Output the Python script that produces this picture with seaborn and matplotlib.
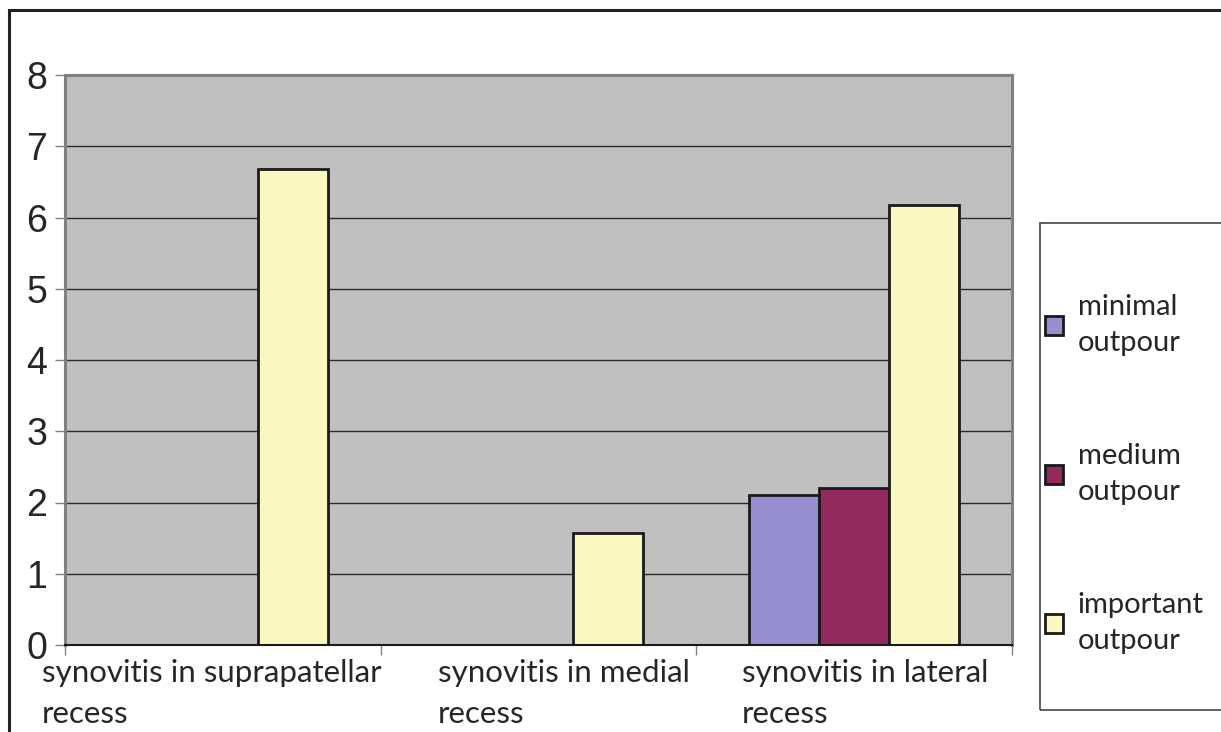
import textwrap
import numpy as np
import pandas as pd
import matplotlib
matplotlib.use("Agg")
import matplotlib.pyplot as plt
from matplotlib.patches import Rectangle
from matplotlib.ticker import FixedLocator
from matplotlib.transforms import ScaledTranslation
import seaborn as sns

categories = ["synovitis in suprapatellar recess",
              "synovitis in medial recess",
              "synovitis in lateral recess"]
levels = ["minimal outpour", "medium outpour", "important outpour"]
minimal = [np.nan, np.nan, 2.1]
medium = [np.nan, np.nan, 2.2]
important = [6.68, 1.57, 6.18]
colors = ["#968ECF", "#922A5E", "#FAF8C0"]
yticks = [0, 1, 2, 3, 4, 5, 6, 7, 8]

df = pd.DataFrame({
    "category": categories * 3,
    "level": [levels[0]] * 3 + [levels[1]] * 3 + [levels[2]] * 3,
    "value": minimal + medium + important,
})

sns.set_style("white")
plt.rcParams["font.family"] = ["Lato", "DejaVu Sans"]

W, H = 1221, 732
fig = plt.figure(figsize=(W / 100, H / 100), dpi=100)
ax = fig.add_axes([65 / W, 1 - 645 / H, (1012 - 65) / W, (645 - 75) / H])
ax.set_facecolor("#C0C0C0")

sns.barplot(data=df, x="category", y="value", hue="level",
            order=categories, hue_order=levels, palette=colors,
            saturation=1, width=0.665, gap=0, errorbar=None, dodge=True,
            edgecolor="#1a1a1a", linewidth=2.0, ax=ax, zorder=3)

ax.set_ylim(0, 8)
ax.set_xlim(-0.5, len(categories) - 0.5)
ax.set_yticks(yticks)
ax.set_yticklabels([str(t) for t in yticks], fontfamily="Liberation Sans", fontsize=27)
ax.tick_params(axis="y", direction="out", length=7, width=1, color="#808080",
               pad=6, left=True)

wrapped = [c.rsplit(" ", 1)[0] + "\n" + c.rsplit(" ", 1)[1] for c in categories]
ax.set_xticks(range(len(categories)))
ax.set_xticklabels(wrapped, fontsize=22.5, linespacing=1.55,
                   multialignment="left")
ax.tick_params(axis="x", which="major", length=0, pad=10)
label_shift = [-11, 25, 11]
for lab, dx in zip(ax.get_xticklabels(), label_shift):
    lab.set_transform(lab.get_transform() + ScaledTranslation(dx / 100, 0, fig.dpi_scale_trans))
ax.xaxis.set_minor_locator(FixedLocator(np.arange(-0.5, len(categories), 1.0)))
ax.tick_params(axis="x", which="minor", direction="out", length=7, width=1,
               color="#808080", bottom=True)
ax.set_xlabel("")
ax.set_ylabel("")

ax.set_axisbelow(True)
ax.yaxis.grid(True, color="#2a2a2a", linewidth=1.0)
ax.xaxis.grid(False)
for s in ["top", "right", "left"]:
    ax.spines[s].set_color("#808080")
    ax.spines[s].set_linewidth(2.2)
ax.spines["bottom"].set_color("#1a1a1a")
ax.spines["bottom"].set_linewidth(1.5)
ax.spines["bottom"].set_zorder(4)

# outer chart border
fig.patches.append(Rectangle((9 / W, -0.1), 1.2, (1 - 10 / H) + 0.1,
                             transform=fig.transFigure, fill=False,
                             edgecolor="#222222", linewidth=2.2))
# legend frame
fig.patches.append(Rectangle((1040 / W, 1 - 710 / H), 0.3, (710 - 223) / H,
                             transform=fig.transFigure, fill=False,
                             edgecolor="#444444", linewidth=1.2))

handles, labels = ax.get_legend_handles_labels()
ax.get_legend().remove()
leg = fig.legend(handles, ["\n".join(textwrap.wrap(l, 9)) for l in labels],
                 loc="center left", bbox_to_anchor=(1045 / W, 1 - 474 / H),
                 frameon=False, fontsize=21, handlelength=0.62, handleheight=0.62,
                 handletextpad=0.5, labelspacing=3.0, borderpad=0,
                 borderaxespad=0)
for t in leg.get_texts():
    t.set_linespacing(1.45)

fig.savefig("out.png", dpi=100)
